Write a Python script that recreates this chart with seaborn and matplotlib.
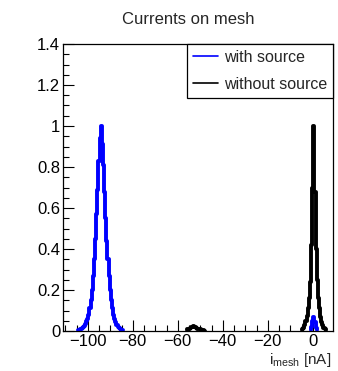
import numpy as np
import pandas as pd
import matplotlib
matplotlib.use("Agg")
import matplotlib.pyplot as plt
from matplotlib.lines import Line2D
from matplotlib.ticker import MultipleLocator, FuncFormatter
import seaborn as sns

# ---------------- data (histogram bin contents, bin width 0.5 nA) ----------------
# "with source": main peak near -94 nA
blue_peak_start = -104.5
blue_peak_vals = [0.003, 0.005, 0.007, 0.010, 0.013, 0.018, 0.025, 0.035, 0.05, 0.06,
                  0.08, 0.11, 0.15, 0.20, 0.27, 0.35, 0.45, 0.57, 0.69, 0.83,
                  0.94, 1.00, 0.91, 0.81, 0.68, 0.55, 0.44, 0.35, 0.27, 0.20,
                  0.15, 0.11, 0.08, 0.06, 0.045, 0.03, 0.02, 0.013, 0.008, 0.005, 0.003]
# "with source": small peak near 0 nA
blue_small_start = -1.0
blue_small_vals = [0.004, 0.02, 0.05, 0.07, 0.045, 0.015, 0.004]

# "without source": small bump near -52 nA
black_bump_start = -56.0
black_bump_vals = [0.003, 0.008, 0.012, 0.015, 0.018, 0.02, 0.022, 0.02, 0.018,
                   0.015, 0.012, 0.01, 0.008, 0.006, 0.004, 0.003, 0.002]
# "without source": main peak near 0 nA
black_peak_start = -5.0
black_peak_vals = [0.003, 0.008, 0.015, 0.03, 0.05, 0.075, 0.11, 0.16, 0.24, 0.42,
                   0.70, 1.00, 0.68, 0.40, 0.25, 0.16, 0.11, 0.07, 0.045, 0.03,
                   0.017, 0.008, 0.003]

series_labels = ["with source", "without source"]
series_colors = {"with source": "#0000ff", "without source": "#000000"}
bin_width = 0.5


def segment(start, vals, series, seg):
    x = start + bin_width * np.arange(len(vals))
    return pd.DataFrame({"x": x, "y": vals, "series": series, "seg": seg})


df_blue = pd.concat([segment(blue_peak_start, blue_peak_vals, "with source", 0),
                     segment(blue_small_start, blue_small_vals, "with source", 1)])
df_black = pd.concat([segment(black_bump_start, black_bump_vals, "without source", 0),
                      segment(black_peak_start, black_peak_vals, "without source", 1)])

# ---------------- style ----------------
sns.set_style("ticks")
plt.rcParams["font.family"] = ["Liberation Sans", "DejaVu Sans"]
plt.rcParams["mathtext.fontset"] = "custom"
plt.rcParams["mathtext.rm"] = "Liberation Sans"
plt.rcParams["mathtext.it"] = "Liberation Sans"

fig = plt.figure(figsize=(3.38, 3.71), dpi=100)
ax = fig.add_axes([63 / 338, 40 / 371, 270 / 338, 287 / 371])

sns.lineplot(data=df_black, x="x", y="y", units="seg", estimator=None,
             color=series_colors["without source"], lw=2.8, ax=ax,
             drawstyle="steps-mid", legend=False)
sns.lineplot(data=df_blue, x="x", y="y", units="seg", estimator=None,
             color=series_colors["with source"], lw=2.8, ax=ax,
             drawstyle="steps-mid", legend=False)

ax.set_xlim(-111, 9)
ax.set_ylim(0, 1.4)
ax.set_xlabel("")
ax.set_ylabel("")

ax.xaxis.set_major_locator(MultipleLocator(20))
ax.xaxis.set_minor_locator(MultipleLocator(5))
ax.yaxis.set_major_locator(MultipleLocator(0.2))
ax.yaxis.set_minor_locator(MultipleLocator(0.05))
ax.yaxis.set_major_formatter(FuncFormatter(lambda v, p: "%g" % round(v, 3)))
ax.xaxis.set_major_formatter(FuncFormatter(lambda v, p: ("%g" % v).replace("-", "\u2212")))

ax.tick_params(axis="both", which="both", direction="in", top=False, right=False,
               labelsize=12, colors="black", width=0.8)
ax.tick_params(axis="both", which="major", length=8)
ax.tick_params(axis="both", which="minor", length=4)
ax.tick_params(axis="y", pad=2)
ax.tick_params(axis="x", pad=2)
for s in ax.spines.values():
    s.set_visible(True)
    s.set_linewidth(0.9)
    s.set_color("black")

handles = [Line2D([], [], color=series_colors[l], lw=1.2) for l in series_labels]
leg = ax.legend(handles, series_labels, loc="upper right", bbox_to_anchor=(1.0, 1.0),
                borderaxespad=0.0, fancybox=False, frameon=True, fontsize=11.5,
                handlelength=1.55, handletextpad=0.35, labelspacing=0.75,
                borderpad=0.38, framealpha=1.0)
leg.get_frame().set_edgecolor("black")
leg.get_frame().set_linewidth(0.9)

fig.text(188 / 338, 1 - 20 / 371, "Currents on mesh", ha="center", va="center", fontsize=12)
fig.text(331 / 338, 1 - 364 / 371, r"$\mathregular{i_{mesh}}$ [nA]", ha="right",
         va="baseline", fontsize=11)

fig.savefig("out.png", dpi=100)
